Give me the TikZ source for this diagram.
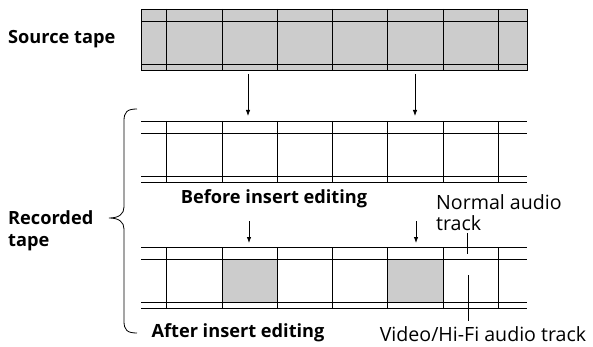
\documentclass[tikz,border=0pt]{standalone}
\usepackage{fontspec}
\setmainfont{Open Sans}
\usetikzlibrary{arrows.meta}
\definecolor{tapegray}{HTML}{CCCCCC}
\tikzset{
  tapeline/.style={line width=0.9pt, black},
  arr/.style={line width=0.8pt, -{Latex[length=6pt,width=4.5pt]}},
  lead/.style={line width=0.8pt},
  boldlbl/.style={font=\fontsize{18.2}{22}\selectfont\bfseries, inner sep=0pt},
  lbl/.style={font=\fontsize{19.6}{21}\selectfont, inner sep=0pt},
}
\begin{document}
\begin{tikzpicture}[x=1pt,y=-1pt]
\useasboundingbox (0,0) rectangle (593,347);
% Source tape
\fill[tapegray] (141,9) rectangle (527,70);
\draw[tapeline] (141,9) rectangle (527,70);
\foreach \y in {21,64} \draw[tapeline] (141,\y) -- (527,\y);
\foreach \x in {166,222,277,332,387,443,498} \draw[tapeline] (\x,9) -- (\x,70);
% Before tape
\foreach \y in {121,133,176,182} \draw[tapeline] (141,\y) -- (527,\y);
\foreach \x in {166,222,277,332,387,443,498} \draw[tapeline] (\x,121) -- (\x,182);
% After tape
\fill[tapegray] (222,259) rectangle (277,302);
\fill[tapegray] (387,259) rectangle (443,302);
\foreach \y in {247,259,302,308} \draw[tapeline] (141,\y) -- (527,\y);
\foreach \x in {166,222,277,332,387,443,498} \draw[tapeline] (\x,247) -- (\x,308);
% arrows
\coordinate (s1) at (248,74); \coordinate (b1) at (248,116);
\coordinate (s2) at (415,74); \coordinate (b2) at (415,116);
\coordinate (a1s) at (249,221); \coordinate (a1) at (249,243);
\coordinate (a2s) at (416,221); \coordinate (a2) at (416,243);
\draw[arr] (s1) -- (b1);
\draw[arr] (s2) -- (b2);
\draw[arr] (a1s) -- (a1);
\draw[arr] (a2s) -- (a2);
% brace
\draw[line width=0.8pt] (137,109) .. controls (127,109) and (124,112) .. (124,121) -- (124,207)
  .. controls (124,214) and (119,218) .. (109,218)
  .. controls (119,218) and (124,222) .. (124,229) -- (124,321)
  .. controls (124,330) and (127,333) .. (137,333);
% labels
\node[boldlbl, anchor=base west] (src) at (8,44) {Source tape};
\node[boldlbl, anchor=base west, align=left] (rec) at (8,246) {Recorded\\tape};
\node[boldlbl, anchor=base] (before) at (274,204) {Before insert editing};
\node[boldlbl, anchor=base] (after) at (238,337) {After insert editing};
\node[lbl, anchor=base west, align=left] (normal) at (436,230) {Normal audio\\track};
\node[lbl, anchor=base] (video) at (483,341.5) {Video/Hi-Fi audio track};
\coordinate (n1) at (467,233); \coordinate (n2) at (467,254);
\coordinate (v1) at (468,275); \coordinate (v2) at (468,321);
\draw[lead] (n1) -- (n2);
\draw[lead] (v1) -- (v2);
\end{tikzpicture}
\end{document}
